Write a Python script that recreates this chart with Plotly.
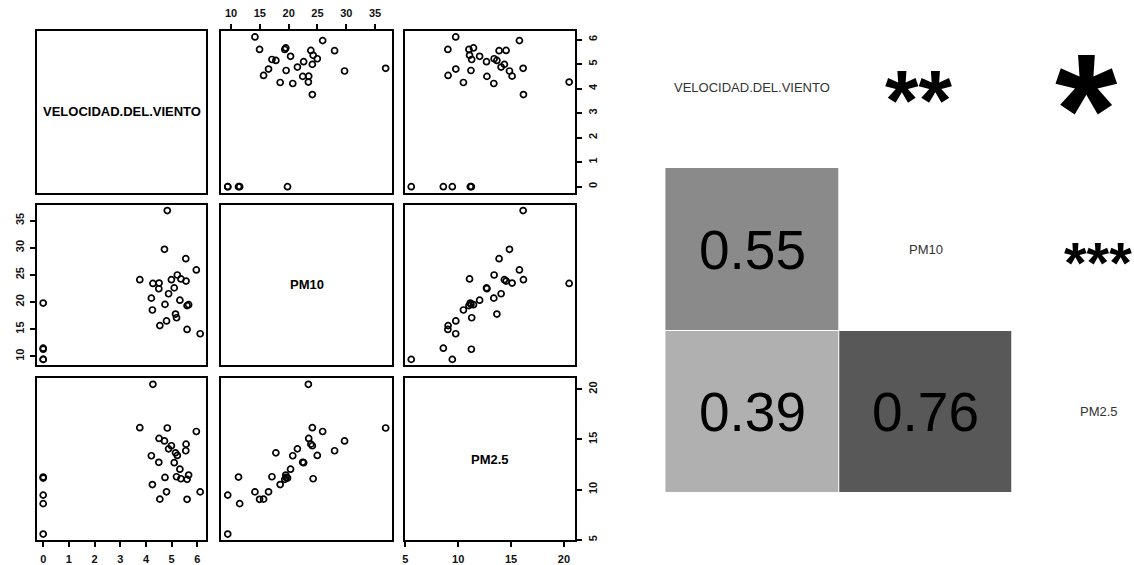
import numpy as np
import plotly.graph_objects as go

# ---- data -------------------------------------------------------------
VARIABLES = ["VELOCIDAD.DEL.VIENTO", "PM10", "PM2.5"]

velocidad = [4.27, 4.83, 3.76, 5.96, 4.51, 4.72, 5.56, 4.99, 4.88, 5.55,
             5.15, 4.21, 5.22, 5.10, 4.50, 5.32, 5.19, 5.60, 5.66, 4.74,
             5.36, 4.25, 6.11, 4.80, 5.60, 4.54, 0.0, 0.0, 0.0, 0.0, 0.0]
pm10 = [23.42, 36.83, 24.11, 25.90, 23.48, 29.70, 23.85, 24.11, 21.52, 27.97,
        17.78, 20.71, 24.97, 22.60, 22.44, 20.33, 17.10, 19.33, 19.50, 19.56,
        24.25, 18.53, 14.15, 16.51, 14.95, 15.65, 9.43, 9.43, 11.50, 11.30, 19.80]
pm25 = [20.49, 16.14, 16.17, 15.79, 15.10, 14.85, 14.53, 14.37, 14.06, 13.87,
        13.66, 13.37, 13.40, 12.68, 12.72, 12.03, 11.28, 11.02, 11.45, 11.21,
        11.08, 10.50, 9.77, 9.78, 9.03, 9.05, 5.57, 9.45, 8.60, 11.25, 11.15]

tick_velocidad = [0, 1, 2, 3, 4, 5, 6]
tick_pm10 = [10, 15, 20, 25, 30, 35]
tick_pm25 = [5, 10, 15, 20]

# lower-triangle correlation coefficients (row, col, r)
corr_cells = [(1, 0, 0.55), (2, 0, 0.39), (2, 1, 0.76)]
# upper-triangle significance stars (row, col, stars)
star_cells = [(0, 1, "**"), (0, 2, "*"), (1, 2, "***")]

# ---- helpers ----------------------------------------------------------
W, H = 1134, 565
series = [np.array(velocidad), np.array(pm10), np.array(pm25)]
ticks = [tick_velocidad, tick_pm10, tick_pm25]


def padded_range(v):
    lo, hi = float(v.min()), float(v.max())
    pad = 0.04 * (hi - lo)
    return [lo - pad, hi + pad]


ranges = [padded_range(s) for s in series]

col_px = [(34, 204), (219, 390), (403, 574)]
row_px = [(31, 193), (205, 366), (379, 541)]

fig = go.Figure()
layout = {}
annotations = []

tick_font = dict(family="Liberation Sans", size=11, color="#111111", weight="bold")

for r in range(3):
    for c in range(3):
        k = r * 3 + c + 1
        xa = "xaxis" if k == 1 else f"xaxis{k}"
        ya = "yaxis" if k == 1 else f"yaxis{k}"
        xref = "x" if k == 1 else f"x{k}"
        yref = "y" if k == 1 else f"y{k}"

        x0, x1 = col_px[c]
        y0, y1 = row_px[r]

        # which sides carry ticks (alternating like a pairs matrix)
        top = (r == 0 and c % 2 == 1)
        bottom = (r == 2 and c % 2 == 0)
        left = (c == 0 and r % 2 == 1)
        right = (c == 2 and r % 2 == 0)

        xshow = top or bottom
        yshow = left or right

        layout[xa] = dict(
            domain=[x0 / W, x1 / W], anchor=yref, range=ranges[c],
            showgrid=False, zeroline=False, showline=True, mirror=True,
            linecolor="black", linewidth=1.5,
            side="top" if top else "bottom",
            ticks="outside" if xshow else "", ticklen=5, tickwidth=1.5,
            tickcolor="black", tickvals=ticks[c], showticklabels=xshow,
            tickfont=tick_font, ticklabelstandoff=3, fixedrange=True,
        )
        layout[ya] = dict(
            domain=[1 - y1 / H, 1 - y0 / H], anchor=xref, range=ranges[r],
            showgrid=False, zeroline=False, showline=True, mirror=True,
            linecolor="black", linewidth=1.5,
            side="right" if right else "left",
            ticks="outside" if yshow else "", ticklen=5, tickwidth=1.5,
            tickcolor="black", tickvals=ticks[r], showticklabels=yshow,
            tickangle=-90, tickfont=tick_font, ticklabelstandoff=2,
            fixedrange=True,
        )

        if r == c:
            # empty trace so the diagonal frame and its axes get drawn
            fig.add_trace(go.Scatter(x=[], y=[], xaxis=xref, yaxis=yref,
                                     mode="markers", showlegend=False,
                                     hoverinfo="skip"))
            annotations.append(dict(
                text=VARIABLES[r], xref=f"{xref} domain", yref=f"{yref} domain",
                x=0.5, y=0.5, showarrow=False,
                font=dict(family="Liberation Sans", size=13, color="black",
                          weight="bold"),
            ))
        else:
            fig.add_trace(go.Scatter(
                x=series[c], y=series[r], mode="markers", xaxis=xref, yaxis=yref,
                marker=dict(symbol="circle-open", size=6, color="black",
                            line=dict(width=1.7, color="black")),
                showlegend=False, hoverinfo="skip",
            ))

# ---- correlation panel ------------------------------------------------
z = [[None] * 3 for _ in range(3)]
for r, c, v in corr_cells:
    z[r][c] = v

fig.add_trace(go.Heatmap(
    x=[0, 1, 2], y=[0, 1, 2], z=z, xaxis="x10", yaxis="y10",
    zmin=0, zmax=1, showscale=False, xgap=1, ygap=1, hoverinfo="skip",
    colorscale=[[0, "rgb(255,255,255)"], [0.06, "rgb(255,255,255)"],
                [1, "rgb(31,31,31)"]],
))

cell_w = 174
panel_left = 664
span_cells = (W - panel_left) / cell_w
layout["xaxis10"] = dict(domain=[panel_left / W, 1], anchor="y10",
                         range=[-0.5, -0.5 + span_cells], visible=False,
                         fixedrange=True)
layout["yaxis10"] = dict(domain=[1 - 494 / H, 1 - 6 / H], anchor="x10",
                         range=[2.5, -0.5], visible=False, fixedrange=True)

for i, name in enumerate(VARIABLES):
    annotations.append(dict(
        text=name, xref="x10", yref="y10", x=i, y=i, showarrow=False,
        font=dict(family="Liberation Sans", size=13, color="#333333"),
    ))

for r, c, v in corr_cells:
    annotations.append(dict(
        text=f"{v:.2f}", xref="x10", yref="y10", x=c, y=r, showarrow=False,
        font=dict(family="Liberation Sans", size=55, color="black"),
    ))

# font size, vertical and horizontal nudge for each star string
star_style = {"*": (160, -22, -13), "**": (86, -13, -7), "***": (58, -13, -1)}
for r, c, s in star_cells:
    size, dy, dx = star_style[s]
    annotations.append(dict(
        text=s, xref="x10", yref="y10", x=c, y=r, showarrow=False,
        xshift=dx, yshift=dy,
        font=dict(family="Liberation Sans", size=size, color="black",
                  weight="bold"),
    ))

fig.update_layout(
    width=W, height=H, margin=dict(l=0, r=0, t=0, b=0),
    paper_bgcolor="white", plot_bgcolor="white",
    annotations=annotations, showlegend=False,
    **layout,
)

fig.write_html("out.html")
